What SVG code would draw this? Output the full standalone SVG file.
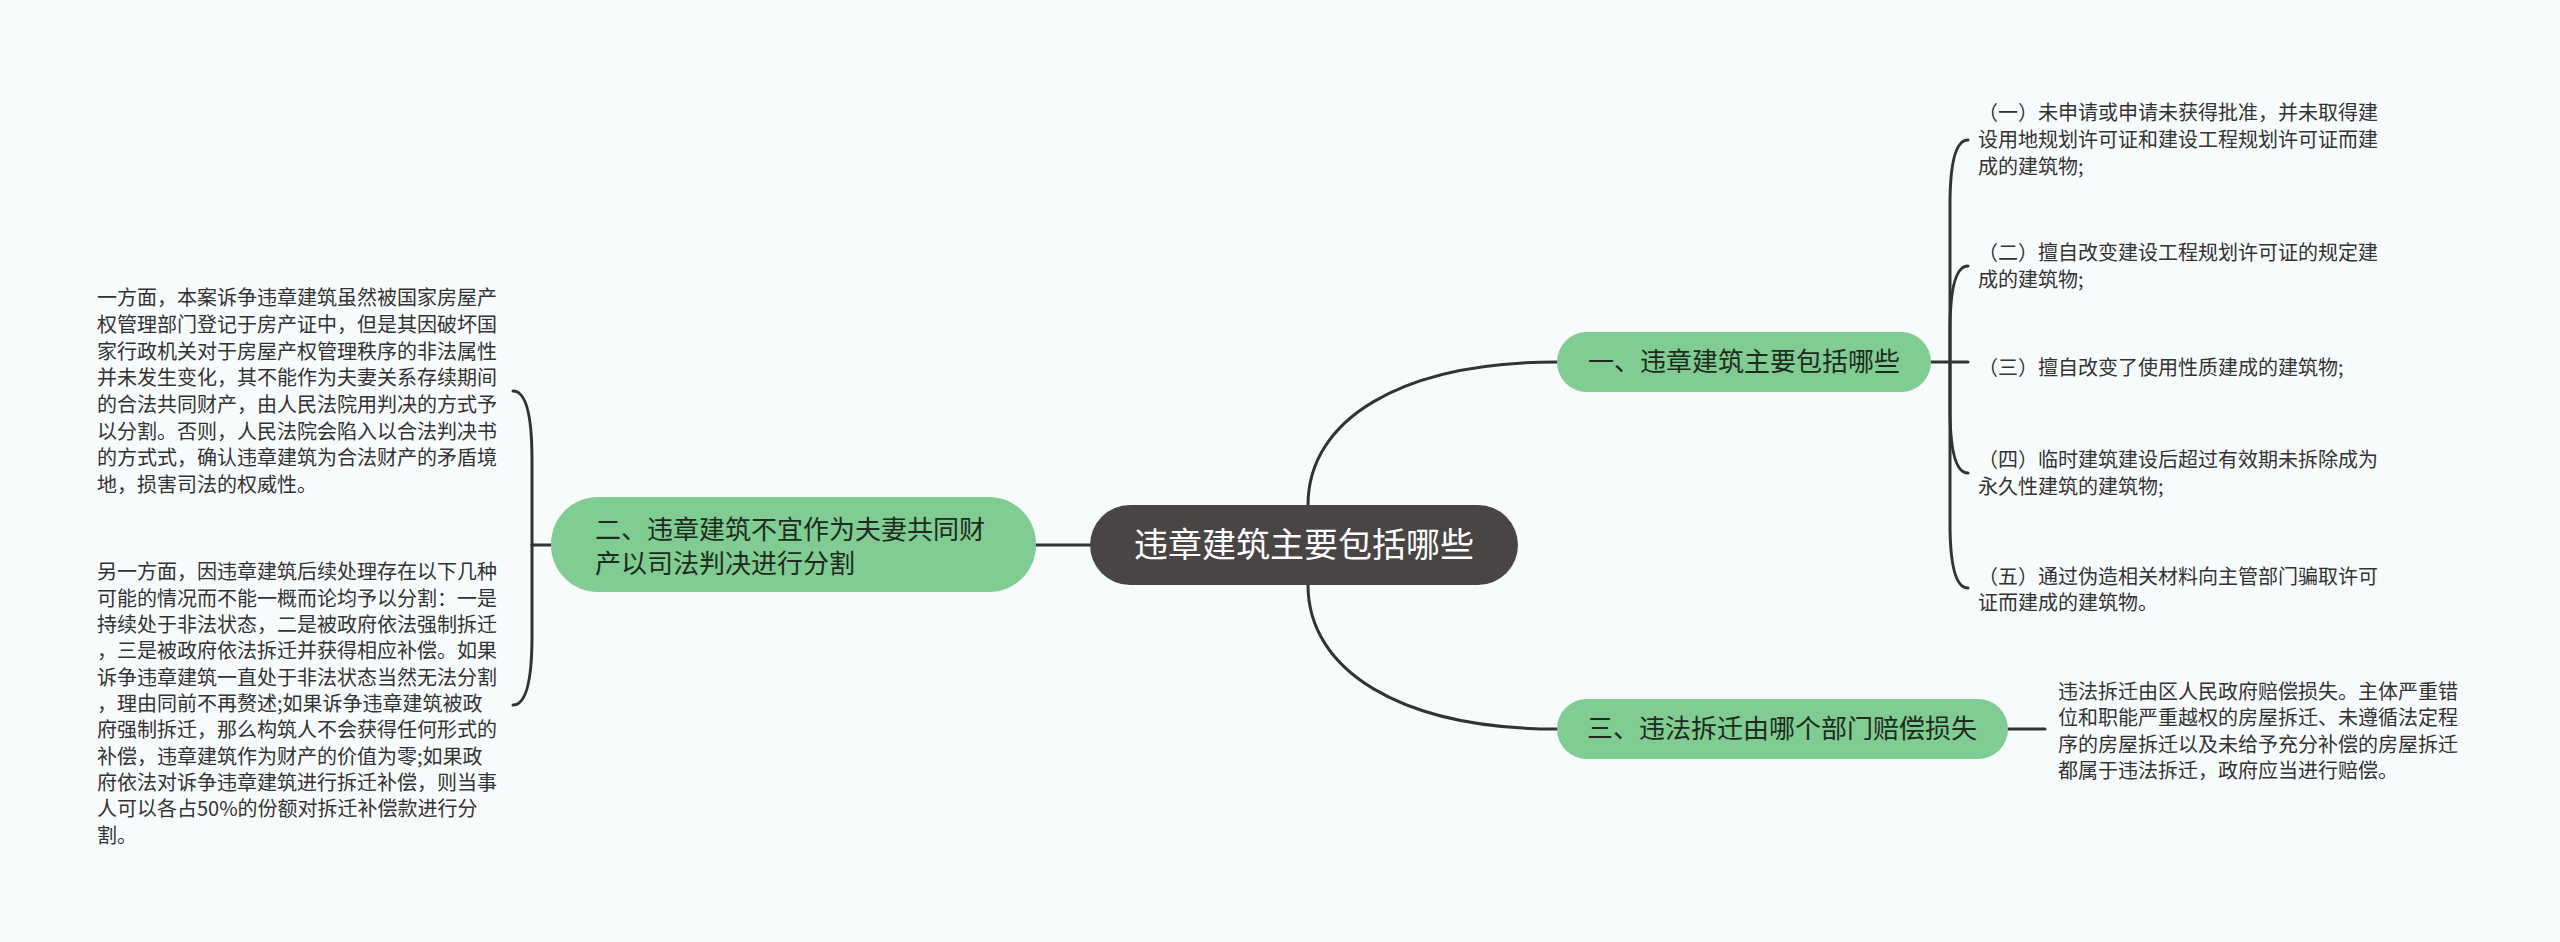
<svg xmlns="http://www.w3.org/2000/svg" width="2560" height="942" viewBox="0 0 2560 942">
<style>
.bg{fill:#f8fbfc}
.ln{fill:none;stroke:#333;stroke-width:3;stroke-linecap:round}
.root{fill:#4a4545}
.br{fill:#80cc92}
.rt{font-family:"Noto Sans CJK SC","Noto Sans",sans-serif;font-size:34px;fill:#fff}
.bt{font-family:"Noto Sans CJK SC","Noto Sans",sans-serif;font-size:26px;fill:#1e2b20}
.lt{font-family:"Noto Sans CJK SC","Noto Sans",sans-serif;font-size:20px;fill:#333}
</style>
<rect class="bg" x="0" y="0" width="2560" height="942"/>
<g id="connectors">
<path class="ln" d="M1308,505 C1308,420 1400,362 1557,362"/>
<path class="ln" d="M1308,585 C1308,670 1400,729 1557,729"/>
<path class="ln" d="M1090,545 L1036,545"/>
<path class="ln" d="M1931,362 L1950,362"/>
<path class="ln" d="M1950,362 L1950,205 C1950,162 1956,140 1968,140"/>
<path class="ln" d="M1950,362 L1950,331 C1950,288 1956,266 1968,266"/>
<path class="ln" d="M1950,362 L1968,362"/>
<path class="ln" d="M1950,362 L1950,408 C1950,451 1956,473 1968,473"/>
<path class="ln" d="M1950,362 L1950,523 C1950,566 1956,588 1968,588"/>
<path class="ln" d="M2008,729 L2045,729"/>
<path class="ln" d="M551,545 L532,545"/>
<path class="ln" d="M532,545 L532,460 C532,415 526,391 513,391"/>
<path class="ln" d="M532,545 L532,636 C532,681 526,705 513,705"/>
</g>
<g id="root">
<rect class="root" x="1090" y="505" width="428" height="80" rx="40"/>
<text class="rt" x="1304" y="557" text-anchor="middle">违章建筑主要包括哪些</text>
</g>
<g id="branch1">
<rect class="br" x="1557" y="332" width="374" height="60" rx="30"/>
<text class="bt" x="1744" y="371" text-anchor="middle">一、违章建筑主要包括哪些</text>
</g>
<g id="branch2">
<rect class="br" x="551" y="497" width="485" height="95" rx="47"/>
<text class="bt" x="595" y="539">二、违章建筑不宜作为夫妻共同财</text>
<text class="bt" x="595" y="573">产以司法判决进行分割</text>
</g>
<g id="branch3">
<rect class="br" x="1557" y="699" width="451" height="60" rx="30"/>
<text class="bt" x="1782" y="738" text-anchor="middle">三、违法拆迁由哪个部门赔偿损失</text>
</g>
<g id="leaf1">
<text class="lt" x="1978" y="120">（一）未申请或申请未获得批准，并未取得建</text>
<text class="lt" x="1978" y="147">设用地规划许可证和建设工程规划许可证而建</text>
<text class="lt" x="1978" y="174">成的建筑物;</text>
</g>
<g id="leaf2">
<text class="lt" x="1978" y="260">（二）擅自改变建设工程规划许可证的规定建</text>
<text class="lt" x="1978" y="287">成的建筑物;</text>
</g>
<g id="leaf3">
<text class="lt" x="1978" y="375">（三）擅自改变了使用性质建成的建筑物;</text>
</g>
<g id="leaf4">
<text class="lt" x="1978" y="467">（四）临时建筑建设后超过有效期未拆除成为</text>
<text class="lt" x="1978" y="494">永久性建筑的建筑物;</text>
</g>
<g id="leaf5">
<text class="lt" x="1978" y="584">（五）通过伪造相关材料向主管部门骗取许可</text>
<text class="lt" x="1978" y="610">证而建成的建筑物。</text>
</g>
<g id="leaf6">
<text class="lt" x="2058" y="699">违法拆迁由区人民政府赔偿损失。主体严重错</text>
<text class="lt" x="2058" y="725">位和职能严重越权的房屋拆迁、未遵循法定程</text>
<text class="lt" x="2058" y="752">序的房屋拆迁以及未给予充分补偿的房屋拆迁</text>
<text class="lt" x="2058" y="778">都属于违法拆迁，政府应当进行赔偿。</text>
</g>
<g id="leaf7">
<text class="lt" x="97" y="305">一方面，本案诉争违章建筑虽然被国家房屋产</text>
<text class="lt" x="97" y="332">权管理部门登记于房产证中，但是其因破坏国</text>
<text class="lt" x="97" y="359">家行政机关对于房屋产权管理秩序的非法属性</text>
<text class="lt" x="97" y="385">并未发生变化，其不能作为夫妻关系存续期间</text>
<text class="lt" x="97" y="412">的合法共同财产，由人民法院用判决的方式予</text>
<text class="lt" x="97" y="439">以分割。否则，人民法院会陷入以合法判决书</text>
<text class="lt" x="97" y="465">的方式式，确认违章建筑为合法财产的矛盾境</text>
<text class="lt" x="97" y="492">地，损害司法的权威性。</text>
</g>
<g id="leaf8">
<text class="lt" x="97" y="579">另一方面，因违章建筑后续处理存在以下几种</text>
<text class="lt" x="97" y="606">可能的情况而不能一概而论均予以分割：一是</text>
<text class="lt" x="97" y="632">持续处于非法状态，二是被政府依法强制拆迁</text>
<text class="lt" x="97" y="658">，三是被政府依法拆迁并获得相应补偿。如果</text>
<text class="lt" x="97" y="685">诉争违章建筑一直处于非法状态当然无法分割</text>
<text class="lt" x="97" y="711">，理由同前不再赘述;如果诉争违章建筑被政</text>
<text class="lt" x="97" y="737">府强制拆迁，那么构筑人不会获得任何形式的</text>
<text class="lt" x="97" y="764">补偿，违章建筑作为财产的价值为零;如果政</text>
<text class="lt" x="97" y="790">府依法对诉争违章建筑进行拆迁补偿，则当事</text>
<text class="lt" x="97" y="816">人可以各占50%的份额对拆迁补偿款进行分</text>
<text class="lt" x="97" y="843">割。</text>
</g>
</svg>
